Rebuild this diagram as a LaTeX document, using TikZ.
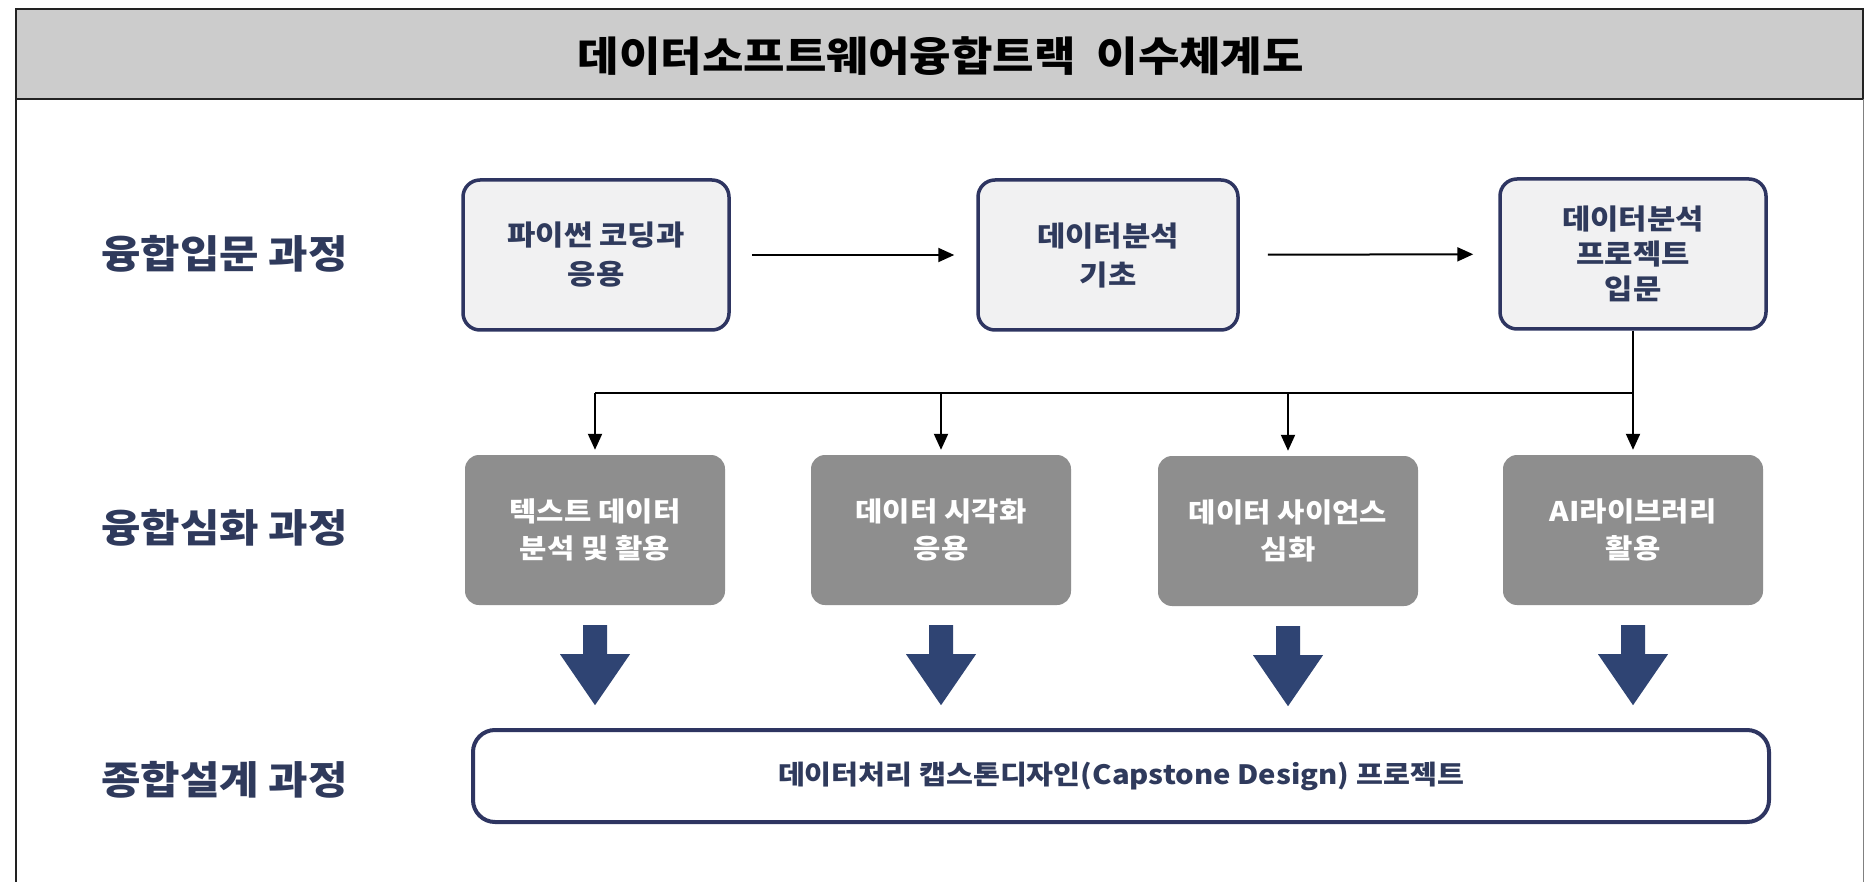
\documentclass[tikz,border=0pt]{standalone}
\usepackage{fontspec}
\newfontfamily\kr{Noto Sans CJK KR}[FakeStretch=1.1]
\usetikzlibrary{arrows.meta,calc}
\definecolor{navy}{HTML}{2E3561}
\definecolor{navytext}{HTML}{2F3A5C}
\definecolor{headgray}{HTML}{CCCCCC}
\definecolor{lightbox}{HTML}{F1F1F2}
\definecolor{midgray}{HTML}{8E8E8E}
\definecolor{bigarrow}{HTML}{2F4473}
\definecolor{framec}{HTML}{222222}
\tikzset{
  framestyle/.style={draw=framec, line width=2pt},
  toptext/.style={font=\kr\bfseries\fontsize{28}{39}\selectfont, text=navytext, align=center},
  topbox/.style={draw=navy, line width=3.5pt, fill=lightbox, rounded corners=17pt,
    minimum width=266pt, minimum height=150pt, inner sep=0pt, toptext},
  midbox/.style={fill=midgray, rounded corners=14pt, minimum width=260pt, minimum height=150pt,
    inner sep=0pt, font=\kr\bfseries\fontsize{27}{37}\selectfont, text=white, align=center},
  botbox/.style={draw=navy, line width=4pt, fill=white, rounded corners=22pt,
    minimum width=1296pt, minimum height=92pt, inner sep=0pt,
    font=\kr\bfseries\fontsize{26.6}{32}\selectfont, text=navytext},
  rowlabel/.style={anchor=west, inner sep=0pt, font=\kr\bfseries\fontsize{39}{44}\selectfont, text=navytext},
  conn/.style={draw=black, line width=2pt, -{Triangle[length=16pt,width=14pt]}},
  plainline/.style={draw=black, line width=2pt},
  bigarr/.style={fill=bigarrow}
}
\newcommand{\blockarrow}[1]{%
  \fill[bigarr, shift={(#1.south)}] (-12,20) -- (12,20) -- (12,49) -- (35,49) -- (0,100) -- (-35,49) -- (-12,49) -- cycle;}
\begin{document}
\begin{tikzpicture}[x=1pt,y=-1pt]
\useasboundingbox (0,0) rectangle (1865,882);
\fill[white] (0,0) rectangle (1865,882);
% frame and header
\fill[headgray] (16,9) rectangle (1863,99);
\draw[framestyle] (16,882) -- (16,9) -- (1863,9) -- (1863,99);
\draw[draw=gray, line width=1pt] (1863,99) -- (1863,882);
\draw[framestyle, line width=2.5pt] (16,99) -- (1863,99);
\node[inner sep=0pt, font=\kr\bfseries\fontsize{41}{46}\selectfont, text=black] (title) at (941,56) {데이터소프트웨어융합트랙\ \ 이수체계도};
% row labels
\node[rowlabel] (r1) at (101,254) {융합입문 과정};
\node[rowlabel] (r2) at (101,528) {융합심화 과정};
\node[rowlabel] (r3) at (101,780) {종합설계 과정};
% top boxes
\node[topbox] (b1) at (596,255) {파이썬 코딩과\\응용};
\node[topbox, minimum width=260pt] (b2) at (1108,255) {데이터분석\\기초};
\node[topbox, font=\kr\bfseries\fontsize{28}{35}\selectfont] (b3) at (1633,254) {데이터분석\\프로젝트\\입문};
% middle boxes
\node[midbox] (m1) at (595,530) {텍스트 데이터\\분석 및 활용};
\node[midbox] (m2) at (941,530) {데이터 시각화\\응용};
\node[midbox] (m3) at (1288,531) {데이터 사이언스\\심화};
\node[midbox] (m4) at (1633,530) {AI라이브러리\\활용};
% bottom box
\node[botbox] (bt) at (1121,776) {데이터처리 캡스톤디자인(Capstone Design) 프로젝트};
% arrows between top boxes
\draw[conn, shorten <=21pt, shorten >=22pt] (b1) -- (b2);
\draw[conn, shorten <=28pt, shorten >=25pt] (b2) -- (b3);
% tree
\coordinate (j) at (1633,393);
\draw[plainline] (b3.south) -- (j);
\draw[plainline] (j) -- (m1.north |- j);
\draw[conn, shorten >=5pt] (m1.north |- j) -- (m1.north);
\draw[conn, shorten >=5pt] (m2.north |- j) -- (m2.north);
\draw[conn, shorten >=5pt] (m3.north |- j) -- (m3.north);
\draw[conn, shorten >=5pt] (j) -- (m4.north);
% block arrows
\blockarrow{m1}
\blockarrow{m2}
\blockarrow{m3}
\blockarrow{m4}
\end{tikzpicture}
\end{document}
